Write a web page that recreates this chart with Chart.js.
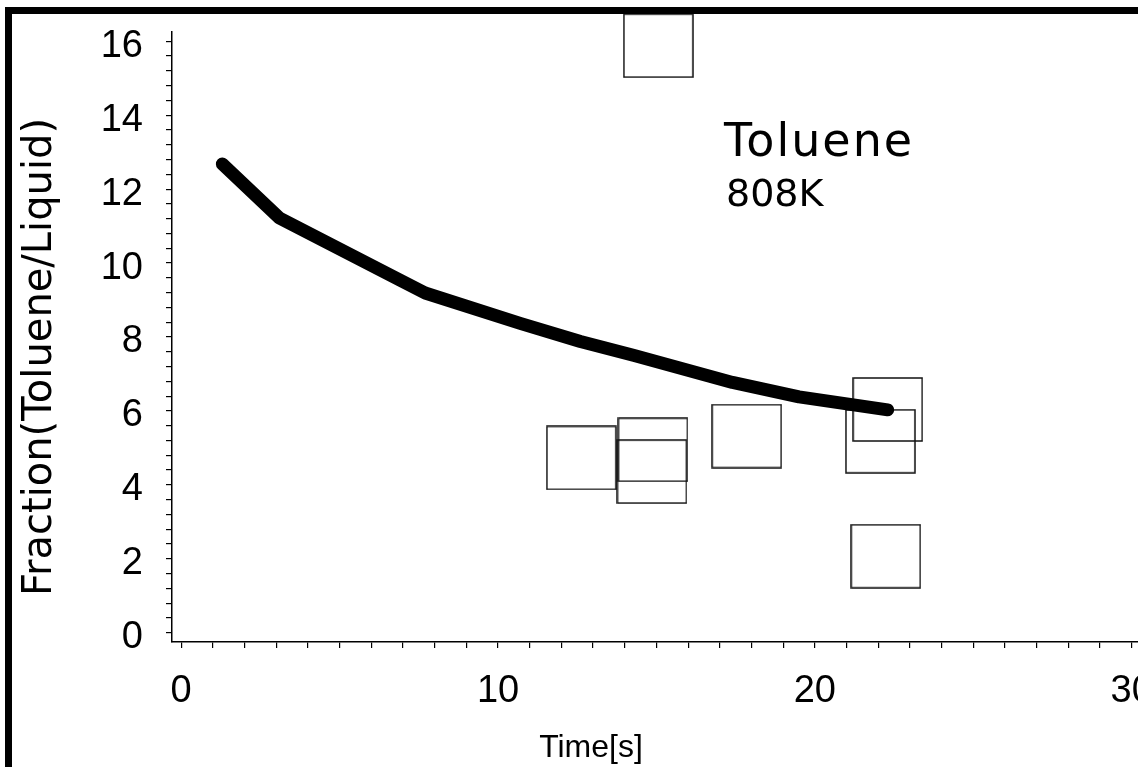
<!DOCTYPE html>
<html>
<head>
<meta charset="utf-8">
<script src="https://cdn.jsdelivr.net/npm/chart.js@4"></script>
<style>
  html, body { margin: 0; padding: 0; background: #fff; overflow: hidden; }
  #wrap { width: 1138px; height: 767px; position: relative; overflow: hidden; }
</style>
</head>
<body>
<div id="wrap"><canvas id="myChart" width="1138" height="767"></canvas></div>
<script>
// model curve (thick line)
const curveTime = [1.3, 3.1, 6.9, 7.7, 10.7, 12.6, 14.3, 17.4, 19.5, 22.3];
const curveFrac = [12.68, 11.22, 9.54, 9.19, 8.37, 7.88, 7.5, 6.77, 6.38, 6.03];

// measured points (open squares)
const squareTime = [12.63, 14.89, 14.86, 17.85, 22.3, 22.07, 22.24, 15.06];
const squareFrac = [4.73, 4.95, 4.36, 5.32, 6.04, 5.18, 2.07, 15.88];

const xLabels = [0, 10, 20, 30];
const yLabels = [0, 2, 4, 6, 8, 10, 12, 14, 16];

const yTitle = "Fraction(Toluene/Liquid)";
const xTitle = "Time[s]";
const noteTitle = "Toluene";
const noteSub = "808K";

// open square marker
const box = document.createElement("canvas");
box.width = 71;
box.height = 65;
const bctx = box.getContext("2d");
bctx.strokeStyle = "#111";
bctx.lineWidth = 1.5;
bctx.strokeRect(1, 1, 69, 63);

function isLabel(list, v) {
  return list.some((l) => Math.abs(l - v) < 1e-6);
}

const frame = {
  id: "frame",
  afterDraw(chart) {
    const c = chart.ctx;
    c.save();
    c.fillStyle = "#000";
    c.fillRect(5, 7, 1133, 7);
    c.fillRect(5, 7, 7, 760);

    c.textAlign = "left";
    c.textBaseline = "alphabetic";
    c.font = '46px "DejaVu Sans"';
    c.letterSpacing = "2px";
    c.fillText(noteTitle, 724, 156);
    c.letterSpacing = "0px";
    c.font = '38px "DejaVu Sans"';
    c.fillText(noteSub, 726, 206);

    c.textAlign = "center";
    c.font = '32px "Liberation Sans"';
    c.fillText(xTitle, 591, 757);

    c.translate(51, 357);
    c.rotate(-Math.PI / 2);
    c.font = '40px "DejaVu Sans"';
    c.fillText(yTitle, 0, 0);
    c.restore();
  },
};

const ctx = document.getElementById("myChart").getContext("2d");
const myChart = new Chart(ctx, {
  type: "scatter",
  data: {
    datasets: [
      {
        label: "model",
        data: curveTime.map((t, i) => ({ x: t, y: curveFrac[i] })),
        showLine: true,
        borderColor: "#000",
        borderWidth: 13,
        borderCapStyle: "round",
        borderJoinStyle: "round",
        pointRadius: 0,
        tension: 0,
      },
      {
        label: "data",
        data: squareTime.map((t, i) => ({ x: t, y: squareFrac[i] })),
        showLine: false,
        pointStyle: box,
        pointRadius: 1,
        clip: false,
      },
    ],
  },
  plugins: [frame],
  options: {
    responsive: false,
    animation: false,
    layout: { autoPadding: false, padding: { top: 32, left: 0, right: 0, bottom: 0 } },
    plugins: {
      legend: { display: false },
      tooltip: { enabled: false },
    },
    scales: {
      x: {
        type: "linear",
        min: -0.29,
        max: 30.2,
        grid: { drawOnChartArea: false, tickLength: 6, color: "#000", lineWidth: 1.2 },
        border: { color: "#000", width: 1.5 },
        ticks: {
          stepSize: 1,
          includeBounds: false,
          autoSkip: false,
          maxRotation: 0,
          padding: 21,
          color: "#000",
          font: { family: "Liberation Sans", size: 38 },
          callback: (v) => (isLabel(xLabels, v) ? String(Math.round(v)) : ""),
        },
        afterFit(scale) {
          scale.height = 125;
          scale.paddingLeft = 0;
          scale.paddingRight = 0;
        },
      },
      y: {
        type: "linear",
        min: -0.25,
        max: 16.25,
        grid: { drawOnChartArea: false, tickLength: 6, color: "#000", lineWidth: 1.2 },
        border: { color: "#000", width: 1.5 },
        ticks: {
          stepSize: 0.4,
          includeBounds: false,
          autoSkip: false,
          padding: 23,
          labelOffset: 5,
          color: "#000",
          font: { family: "Liberation Sans", size: 38 },
          callback: (v) => (isLabel(yLabels, v) ? String(Math.round(v)) : ""),
        },
        afterFit(scale) {
          scale.width = 172;
          scale.paddingTop = 0;
          scale.paddingBottom = 0;
        },
      },
    },
  },
});
</script>
</body>
</html>
